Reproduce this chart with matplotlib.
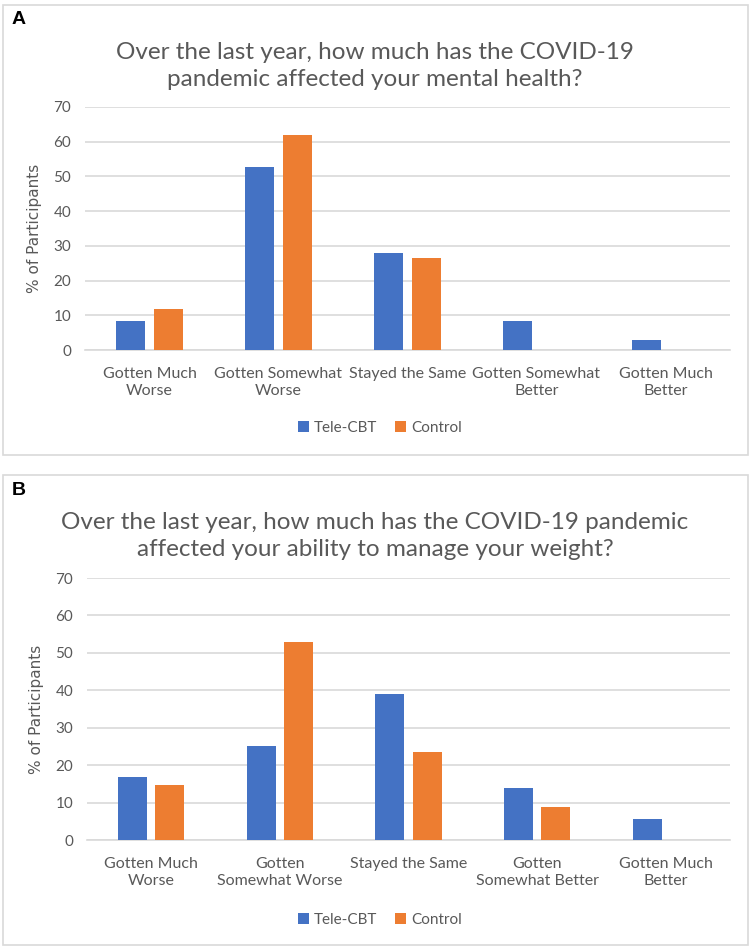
import matplotlib.pyplot as plt
from matplotlib.patches import Rectangle
import numpy as np

# data (% of participants)
cats_a = ["Gotten Much\nWorse", "Gotten Somewhat\nWorse", "Stayed the Same",
          "Gotten Somewhat\nBetter", "Gotten Much\nBetter"]
cats_b = ["Gotten Much\nWorse", "Gotten\nSomewhat Worse", "Stayed the Same",
          "Gotten\nSomewhat Better", "Gotten Much\nBetter"]
tele_a = [8.3, 52.8, 27.8, 8.3, 2.8]
ctrl_a = [11.8, 61.8, 26.5, 0, 0]
tele_b = [16.7, 25.0, 38.9, 13.9, 5.6]
ctrl_b = [14.7, 52.9, 23.5, 8.8, 0]
title_a = "Over the last year, how much has the COVID-19\npandemic affected your mental health?"
title_b = "Over the last year, how much has the COVID-19 pandemic\naffected your ability to manage your weight?"

BLUE = "#4472C4"
ORANGE = "#ED7D31"
GRID = "#D9D9D9"
TXT = "#595959"
W, H = 752, 950
FONT = "Lato"

fig = plt.figure(figsize=(W / 100, H / 100), dpi=100)


def fx(px):
    return px / W


def fy(py):
    return 1 - py / H


def panel(letter, box, title, title_y, ax_px, cats, tele, ctrl, legend_y):
    x0, y0, x1, y1 = box
    fig.add_artist(Rectangle((fx(x0), fy(y1)), fx(x1 - x0), (y1 - y0) / H,
                             transform=fig.transFigure, fill=False,
                             edgecolor=GRID, linewidth=1.2))
    fig.text(fx(x0 + 9), fy(y0 + 15), letter, fontsize=14, fontweight="bold",
             family="Liberation Sans", va="center", ha="left")
    fig.text(fx(375), fy(title_y), title, fontsize=17.5, color=TXT, family=FONT,
             ha="center", va="center", linespacing=1.35)

    left, top, right, bottom = ax_px
    ax = fig.add_axes([fx(left), fy(bottom), fx(right - left), (bottom - top) / H])
    x = np.arange(len(cats))
    bw = 0.225
    off = 0.145
    ax.bar(x - off, tele, bw, color=BLUE, label="Tele-CBT", zorder=3)
    ax.bar(x + off, ctrl, bw, color=ORANGE, label="Control", zorder=3)
    ax.set_xlim(-0.5, len(cats) - 0.5)
    ax.set_ylim(0, 70)
    ax.set_yticks(range(0, 71, 10))
    ax.yaxis.grid(True, color=GRID, linewidth=1.2, zorder=0)
    ax.set_axisbelow(True)
    for s in ["top", "right", "left"]:
        ax.spines[s].set_visible(False)
    ax.spines["bottom"].set_color(GRID)
    ax.spines["bottom"].set_linewidth(1.2)
    ax.tick_params(length=0)
    ax.set_xticks(x)
    ax.set_xticklabels(cats, fontsize=11.5, color=TXT, family=FONT, linespacing=1.3)
    ax.tick_params(axis="x", pad=12)
    for t in ax.get_yticklabels():
        t.set_fontsize(11)
        t.set_color(TXT)
        t.set_family(FONT)
    ax.tick_params(axis="y", pad=10)
    ax.set_ylabel("% of Participants", fontsize=11, color=TXT, family="DejaVu Sans",
                  labelpad=8)
    ax.legend(loc="center", bbox_to_anchor=(fx(380), fy(legend_y)),
              bbox_transform=fig.transFigure, ncol=2, frameon=False,
              prop={"family": FONT, "size": 11}, handlelength=0.7,
              handleheight=0.7, handletextpad=0.3, columnspacing=1.2,
              labelcolor=TXT)
    return ax


panel("A", (3, 5, 748, 455), title_a, 66, (85, 107, 730, 350),
      cats_a, tele_a, ctrl_a, 428)
panel("B", (3, 475, 748, 945), title_b, 536, (87, 578, 730, 840),
      cats_b, tele_b, ctrl_b, 920)

fig.savefig("out.png", dpi=100)
